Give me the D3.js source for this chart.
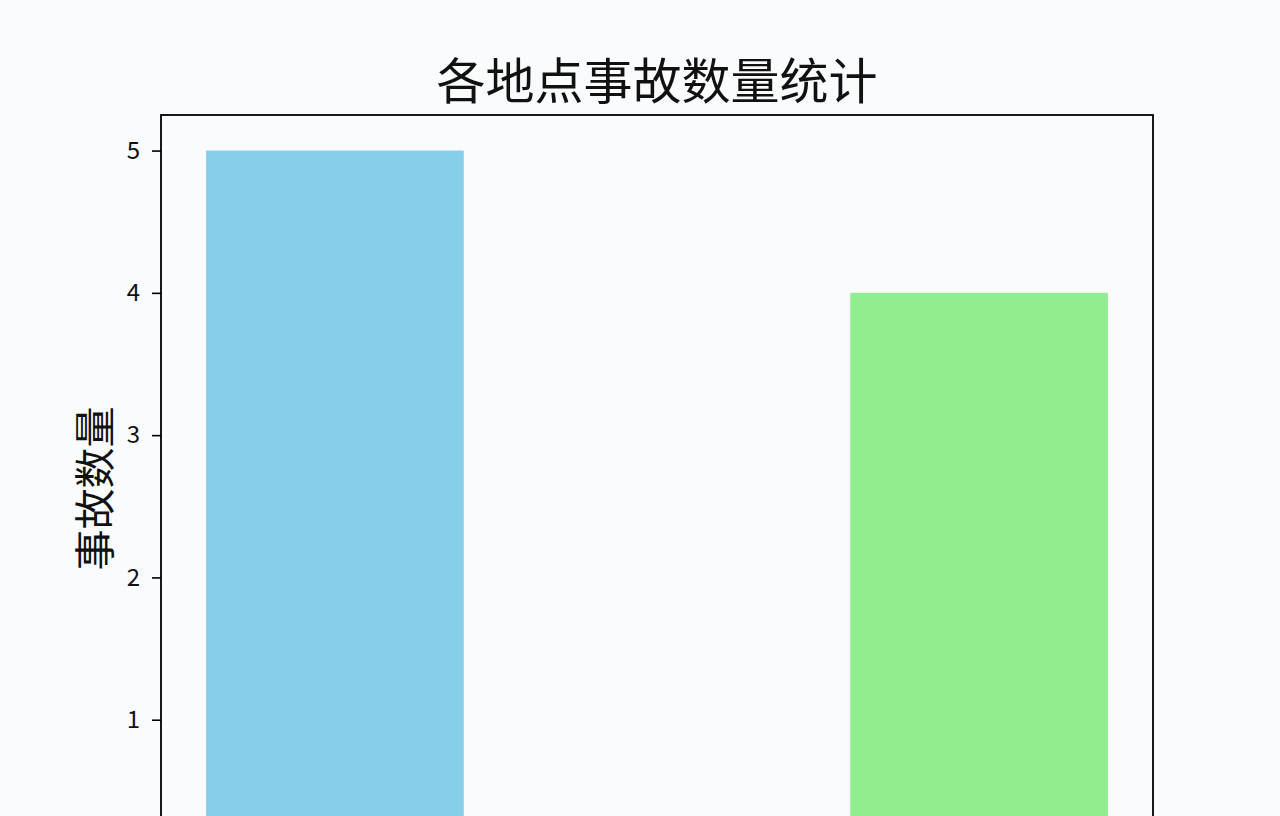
<!DOCTYPE html>
<html>
<head>
<meta charset="utf-8">
<script src="https://cdn.jsdelivr.net/npm/d3@7"></script>
<style>
  html, body { margin: 0; padding: 0; background: #f9fbfd; }
  svg { display: block; }
  text { font-family: "Noto Sans CJK SC", "Noto Sans", sans-serif; fill: #111; }
</style>
</head>
<body>
<svg id="chart" width="1280" height="816"></svg>
<script>
// data (x labels and the 0 tick fall below the visible crop)
var LOCATIONS = ["地点A", "地点B"];
var ACCIDENTS = [5, 4];
var BAR_COLORS = ["#87CEEB", "#90EE90"];
var Y_TICKS = [1, 2, 3, 4, 5];
var TITLE = "各地点事故数量统计";
var Y_LABEL = "事故数量";

var svg = d3.select("#chart");
var plot = { left: 161, right: 1153, top: 115, bottom: 862 };
var BAR_W = 0.4;

// matplotlib-like limits: 5% margins around the bars
var xmin = -BAR_W / 2, xmax = LOCATIONS.length - 1 + BAR_W / 2;
var xpad = (xmax - xmin) * 0.05;
var x = d3.scaleLinear().domain([xmin - xpad, xmax + xpad]).range([plot.left, plot.right]);
var ymax = d3.max(ACCIDENTS);
var y = d3.scaleLinear().domain([0, ymax * 1.05]).range([plot.bottom, plot.top]);

// bars
svg.append("g").selectAll("rect")
  .data(ACCIDENTS)
  .enter().append("rect")
  .attr("x", function(d, i){ return x(i - BAR_W / 2); })
  .attr("width", function(d, i){ return x(i + BAR_W / 2) - x(i - BAR_W / 2); })
  .attr("y", function(d){ return y(d); })
  .attr("height", function(d){ return y(0) - y(d); })
  .attr("fill", function(d, i){ return BAR_COLORS[i % BAR_COLORS.length]; })
  .append("title").text(function(d, i){ return LOCATIONS[i] + ": " + d; });

// frame
svg.append("rect")
  .attr("x", plot.left).attr("y", plot.top)
  .attr("width", plot.right - plot.left).attr("height", plot.bottom - plot.top)
  .attr("fill", "none").attr("stroke", "#000").attr("stroke-width", 1.8);

// y axis
var yAxis = d3.axisLeft(y).tickValues(Y_TICKS).tickSize(9).tickPadding(12).tickFormat(d3.format("d"));
var gy = svg.append("g").attr("transform", "translate(" + plot.left + ",0)").call(yAxis);
gy.select(".domain").remove();
gy.selectAll(".tick line").attr("stroke", "#000").attr("stroke-width", 1.6);
gy.selectAll(".tick text")
  .style("font-family", "'Liberation Sans Narrow', 'Noto Sans CJK SC', sans-serif")
  .style("font-size", "24px").attr("fill", "#111");

// title
svg.append("text")
  .attr("x", (plot.left + plot.right) / 2).attr("y", 99)
  .attr("text-anchor", "middle")
  .style("font-size", "49px")
  .text(TITLE);

// y label
svg.append("text")
  .attr("transform", "translate(110," + ((plot.top + plot.bottom) / 2) + ") rotate(-90)")
  .attr("text-anchor", "middle")
  .style("font-size", "41px")
  .text(Y_LABEL);
</script>
</body>
</html>
